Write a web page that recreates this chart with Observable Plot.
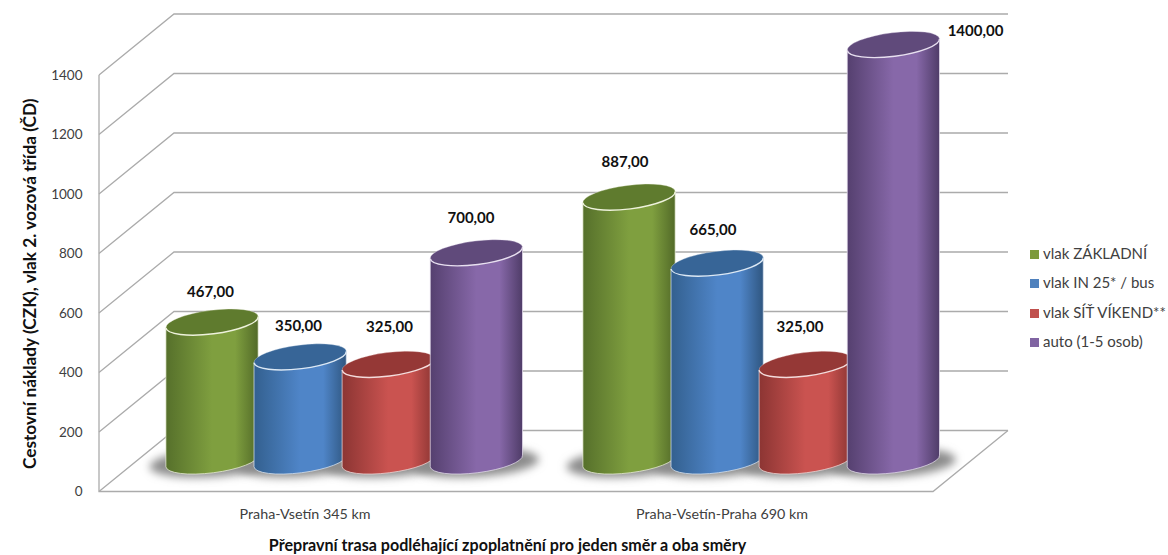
<!DOCTYPE html>
<html lang="cs">
<head>
<meta charset="utf-8">
<script src="https://cdn.jsdelivr.net/npm/d3@7"></script>
<script src="https://cdn.jsdelivr.net/npm/@observablehq/plot@0.6"></script>
<style>
  html, body { margin: 0; padding: 0; background: #fff; }
  #chart { position: relative; width: 1168px; height: 555px; overflow: hidden; font-family: Lato, sans-serif; }
  #chart svg { display: block; }
  .legend { position: absolute; left: 1030px; top: 239px; font-size: 15px; color: #404040; }
  .legend div { height: 29.4px; line-height: 29.4px; white-space: nowrap; }
  .legend i { display: inline-block; width: 9px; height: 9px; margin-right: 4px; }
</style>
</head>
<body>
<div id="chart"></div>
<script>
// Travel costs per route and mode of transport
const routes = ["Praha-Vsetín 345 km", "Praha-Vsetín-Praha 690 km"];
const modes = ["vlak ZÁKLADNÍ", "vlak IN 25* / bus", "vlak SÍŤ VÍKEND**", "auto (1-5 osob)"];
const costsOneWay = [467, 350, 325, 700];
const costsReturn = [887, 665, 325, 1400];
const yTicks = [0, 200, 400, 600, 800, 1000, 1200, 1400];

// Shading of each mode: cylinder edge, highlight, cap, rim
const swatches = ["#7d9a3c", "#4f81bd", "#c0504d", "#8064a2"];
const bodyEdgeL = ["#56702b", "#33608f", "#8c3533", "#55406f"];
const bodyMid = ["#7f9f3f", "#4f85c8", "#ca5350", "#8768a9"];
const bodyEdgeR = ["#526a28", "#2f5680", "#8a3432", "#4f3c68"];
const capFill = ["#5f7b2e", "#376597", "#953836", "#604a7b"];
const rim = ["#eef2dc", "#dce8f4", "#f4dcdc", "#e8e0f0"];

// Pseudo-3D box: offset of the back wall from the front plane, in pixels
const depthX = 75;
const depthY = -61;
const barSpacing = 0.2113;   // distance between cylinders, as a share of the route band
const barShift = -0.8;
const tiltDeg = 7.2;
const rx = 46.5;
const ry = 11.8;

const rows = routes.flatMap((route, r) =>
  modes.map((mode, m) => ({route, mode, m, value: (r ? costsReturn : costsOneWay)[m]}))
);

const fmt = (v) => v.toFixed(2).replace(".", ",");

// Hand-placed value labels, [dx, dy] from the cylinder's value on the front plane
const labelNudge = [
  [-3, -60.6], [-3, -61.7], [0, -67.8], [-6.5, -66],
  [-5.5, -65.9], [-5.5, -63.7], [-6.5, -68], [81, -44]
];

const svgNs = "http://www.w3.org/2000/svg";
function el(name, attrs, parent) {
  const n = document.createElementNS(svgNs, name);
  for (const k in attrs) n.setAttribute(k, attrs[k]);
  if (parent) parent.appendChild(n);
  return n;
}

function cylinderCenter(d, x) {
  const band = x(routes[1]) - x(routes[0]);
  return x(d.route) + band / 2 + depthX / 2 + barShift + (d.m - 1.5) * band * barSpacing;
}

// Draws the back wall, side wall and floor of the box from the axis scales
function walls(index, {x, y}) {
  const g = el("g", {fill: "none", stroke: "#ababab", "stroke-width": 1.3});
  const band = x(routes[1]) - x(routes[0]);
  const left = x(routes[0]);
  const right = x(routes[1]) + band;
  for (const t of yTicks) {
    const yf = y(t);
    el("path", {d: `M${left},${yf}L${left + depthX},${yf + depthY}H${right + depthX}`}, g);
  }
  el("path", {d: `M${left},${y(1400)}V${y(0)}H${right}L${right + depthX},${y(0) + depthY}`}, g);
  return g;
}

// Draws soft floor shadows, then the cylinders from left to right
function cylinders(index, {x, y}) {
  const g = el("g", {});
  const defs = el("defs", {}, g);
  const blur = el("filter", {id: "soft", x: "-30%", y: "-60%", width: "160%", height: "220%"}, defs);
  el("feGaussianBlur", {stdDeviation: 4.5}, blur);
  modes.forEach((_, m) => {
    const grad = el("linearGradient", {id: `body${m}`, x1: 0, x2: 1, y1: 0, y2: 0}, defs);
    [[0, bodyEdgeL[m]], [0.5, bodyMid[m]], [0.75, bodyMid[m]], [1, bodyEdgeR[m]]].forEach(([o, c]) =>
      el("stop", {offset: o, "stop-color": c}, grad)
    );
  });
  const yBase = y(0) + depthY / 2;
  const rad = tiltDeg * Math.PI / 180;
  const ex = rx * Math.cos(rad);
  const ey = rx * Math.sin(rad);

  for (const d of rows) {
    const cx = cylinderCenter(d, x);
    el("ellipse", {
      cx: cx, cy: yBase + 2, rx: rx + 16, ry: 14, fill: "#8c8c8c",
      transform: `rotate(${-tiltDeg / 2} ${cx} ${yBase + 2})`, filter: "url(#soft)"
    }, g);
  }
  for (const d of rows) {
    const cx = cylinderCenter(d, x);
    const yTop = y(d.value) + depthY / 2;
    const arc = (yc, sweep) =>
      `M${cx - ex},${yc + ey}A${rx},${ry} ${-tiltDeg} 0 ${sweep} ${cx + ex},${yc - ey}`;
    el("path", {
      d: `M${cx - ex},${yTop + ey}L${cx - ex},${yBase + ey}A${rx},${ry} ${-tiltDeg} 0 0 ${cx + ex},${yBase - ey}L${cx + ex},${yTop - ey}Z`,
      fill: `url(#body${d.m})`, stroke: rim[d.m], "stroke-width": 0.9, "stroke-opacity": 0.8
    }, g);
    el("ellipse", {
      cx, cy: yTop, rx, ry, fill: capFill[d.m],
      transform: `rotate(${-tiltDeg} ${cx} ${yTop})`
    }, g);
    el("path", {d: arc(yTop, 1), fill: "none", stroke: rim[d.m], "stroke-width": 0.7, "stroke-opacity": 0.5}, g);
    el("path", {d: arc(yTop, 0), fill: "none", stroke: rim[d.m], "stroke-width": 1.4}, g);
  }
  return g;
}

const valueLabels = rows.map((d, i) =>
  Plot.text([d], {
    x: "route", y: "value", text: (r) => fmt(r.value),
    dx: depthX / 2 + (d.m - 1.5) * 88 + labelNudge[i][0],
    dy: labelNudge[i][1],
    fontWeight: 700, fontSize: 15, fill: "#111"
  })
);

const plot = Plot.plot({
  width: 1168,
  height: 555,
  marginLeft: 98,
  marginRight: 235,
  marginTop: 75,
  marginBottom: 63.5,
  style: {fontFamily: "Lato, sans-serif", background: "#fff"},
  x: {type: "band", domain: routes, padding: 0},
  y: {domain: [0, 1400]},
  marks: [
    walls,
    cylinders,
    ...valueLabels,
    Plot.axisY({ticks: yTicks, tickSize: 0, tickPadding: 16, label: null, fontSize: 13.5, tickFormat: (d) => String(d), fill: "#404040"}),
    Plot.axisX({tickSize: 0, tickPadding: 17, label: null, fontSize: 14.3, fill: "#404040", lineWidth: 30, dx: -3}),
    Plot.text(["Cestovní náklady (CZK), vlak 2. vozová třída (ČD)"], {
      frameAnchor: "left", textAnchor: "middle", dx: -68, dy: 0, rotate: -90, fontWeight: 700, fontSize: 17.3, fill: "#111"
    }),
    Plot.text(["Přepravní trasa podléhající zpoplatnění pro jeden směr a oba směry"], {
      frameAnchor: "bottom", dx: -8.5, dy: 58.5, fontWeight: 700, fontSize: 16.1, fill: "#111"
    })
  ]
});

const chart = document.getElementById("chart");
chart.appendChild(plot);

// Mode legend beside the plot
const legend = d3.select(chart).append("div").attr("class", "legend");
modes.forEach((mode, m) => {
  const row = legend.append("div");
  row.append("i").style("background", swatches[m]);
  row.append("span").text(mode);
});
</script>
</body>
</html>
